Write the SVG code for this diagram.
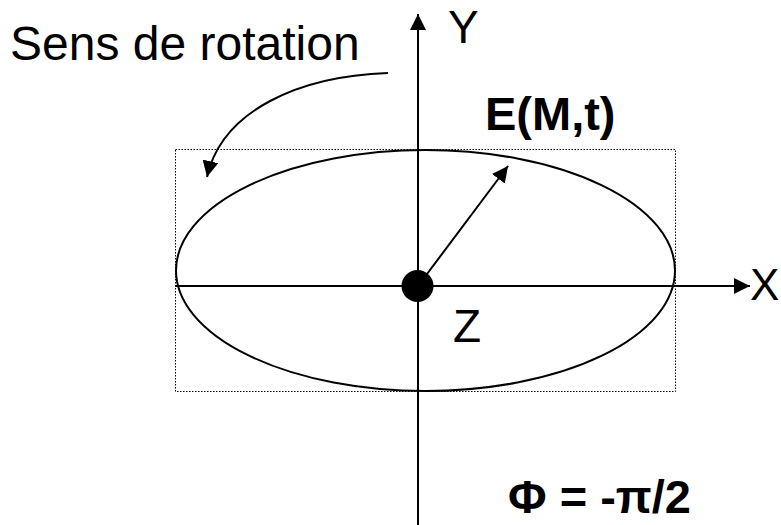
<svg xmlns="http://www.w3.org/2000/svg" width="781" height="525" viewBox="0 0 781 525">
<style>
.t{font-family:"Liberation Sans",Arial,sans-serif;font-size:46px;fill:#000}
.b{font-weight:bold}
.ln{stroke:#000;stroke-width:2;fill:none}
</style>
<defs>
<marker id="ah" markerWidth="17" markerHeight="17" refX="16" refY="8" orient="auto" markerUnits="userSpaceOnUse">
<path d="M0,0 L16,8 L0,16 Z" fill="#000"/>
</marker>
</defs>
<rect width="781" height="525" fill="#fff"/>
<g id="frame">
<rect x="175.5" y="149.5" width="500" height="242" fill="none" stroke="#000" stroke-width="1" stroke-dasharray="1.5,1.5"/>
</g>
<g id="ellipse">
<ellipse cx="425.5" cy="270.5" rx="249.5" ry="120.5" class="ln"/>
</g>
<g id="connectors">
<line x1="418" y1="525" x2="418" y2="14" class="ln" marker-end="url(#ah)"/>
<line x1="175" y1="286" x2="750" y2="286" class="ln" marker-end="url(#ah)"/>
<line x1="418" y1="286" x2="508" y2="166" class="ln" marker-end="url(#ah)"/>
<path d="M388,73 C300,76 222,110 207,177" class="ln" marker-end="url(#ah)"/>
</g>
<g id="origin">
<circle cx="417.5" cy="286" r="16" fill="#000"/>
</g>
<g id="labels">
<text class="t" x="10" y="60" style="font-size:48px">Sens de rotation</text>
<text class="t" x="448" y="43">Y</text>
<text class="t" x="750" y="300" style="font-size:44px">X</text>
<text class="t" x="453" y="342">Z</text>
<text class="t b" x="485" y="130" style="font-size:47px">E(M,t)</text>
<text class="t b" x="508" y="513" style="font-size:47px">Φ = -π/2</text>
</g>
</svg>
